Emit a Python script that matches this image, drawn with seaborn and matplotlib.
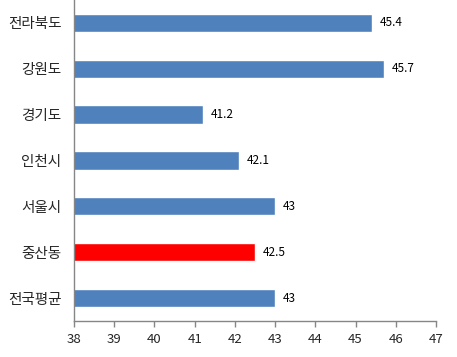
import matplotlib
matplotlib.use("Agg")
import matplotlib.pyplot as plt
import numpy as np
import pandas as pd
import seaborn as sns

# data
regions = ["전라북도", "강원도", "경기도", "인천시", "서울시", "중산동", "전국평균"]
values = [45.4, 45.7, 41.2, 42.1, 43, 42.5, 43]
highlight = "중산동"

sns.set_theme(style="white")
plt.rcParams['font.family'] = ['Noto Sans CJK KR', 'DejaVu Sans']

df = pd.DataFrame({"region": regions, "value": values})
palette = {r: ("#FF0000" if r == highlight else "#4F81BD") for r in regions}

fig = plt.figure(figsize=(4.57, 3.57), dpi=100)
ax = fig.add_axes([0.162, 0.101, 0.792, 0.899])

sns.barplot(data=df, y="region", x="value", hue="region", palette=palette,
            order=regions, width=0.4, legend=False, ax=ax, saturation=1)

ax.set_xlim(38, 47)
ax.set_xticks(range(38, 48))
ax.set_xlabel("")
ax.set_ylabel("")

for i, v in enumerate(values):
    ax.text(v + 0.2, i, f"{v:g}", va="center", ha="left", fontsize=8.5, color="black")

# category ticks sit between the bars
ax.set_yticks(np.arange(-0.5, len(regions), 1), minor=True)
ax.tick_params(axis="y", which="major", length=0, labelsize=10.5, pad=9)
ax.tick_params(axis="y", which="minor", length=4, width=1, color="#868686", direction="out")
ax.tick_params(axis="x", which="major", length=4, width=1, color="#868686",
               direction="out", labelsize=9.5, pad=5, bottom=True)

for side in ["top", "right"]:
    ax.spines[side].set_visible(False)
for side in ["left", "bottom"]:
    ax.spines[side].set_color("#868686")
    ax.spines[side].set_linewidth(1)

fig.savefig("out.png", dpi=100)
